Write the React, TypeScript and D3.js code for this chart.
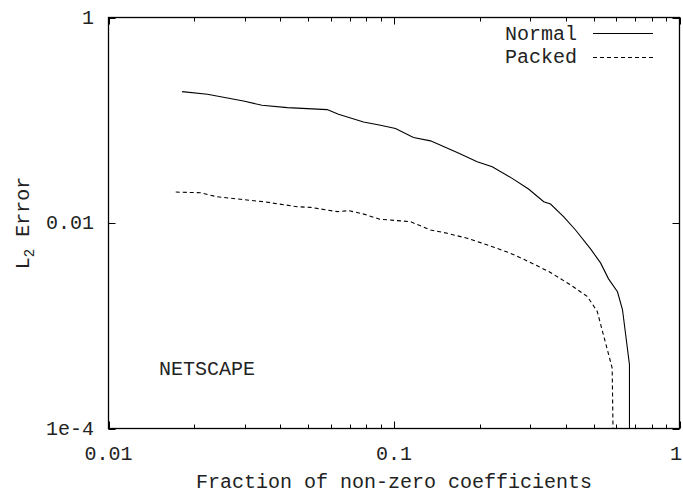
import React from 'react';
import * as d3 from 'd3';

// fraction of non-zero coefficients vs L2 error
const normalX = [0.0181, 0.0222, 0.0297, 0.0345, 0.0423, 0.0583, 0.0639, 0.0782, 0.0897, 0.1012, 0.117, 0.1342, 0.1665, 0.1956, 0.2208, 0.2594, 0.2959, 0.3346, 0.3534, 0.3933, 0.4323, 0.488, 0.529, 0.5642, 0.6064, 0.6315, 0.668, 0.668];
const normalY = [0.19, 0.1788, 0.1539, 0.1398, 0.1328, 0.127, 0.1144, 0.0962, 0.0894, 0.0831, 0.0679, 0.063, 0.0486, 0.0394, 0.0352, 0.0272, 0.0214, 0.0161, 0.0153, 0.0115, 0.00855, 0.00559, 0.00409, 0.00286, 0.00214, 0.00143, 0.000418, 0.0001];
const packedX = [0.0172, 0.021, 0.024, 0.029, 0.035, 0.0458, 0.051, 0.0633, 0.0695, 0.0784, 0.089, 0.1142, 0.1342, 0.1536, 0.1805, 0.2009, 0.2237, 0.2524, 0.2848, 0.3484, 0.4151, 0.475, 0.515, 0.581, 0.585];
const packedY = [0.02, 0.0197, 0.018, 0.017, 0.0161, 0.0144, 0.0142, 0.0129, 0.0132, 0.0122, 0.0109, 0.0103, 0.00855, 0.00794, 0.0071, 0.00644, 0.00581, 0.00515, 0.00444, 0.00337, 0.0025, 0.00193, 0.00138, 0.000388, 0.0001];

const xTicks = [0.01, 0.1, 1];
const xTickLabels = ['0.01', '0.1', '1'];
const yTicks = [1, 0.01, 0.0001];
const yTickLabels = ['1', '0.01', '1e-4'];
const seriesNames = ['Normal', 'Packed'];

const W = 683;
const H = 493;
const left = 108.5;
const right = 679.5;
const top = 17.5;
const bottom = 428.5;
const font = '"Liberation Mono", "Courier New", monospace';

export default function App() {
	const x = d3.scaleLog().domain([0.01, 1]).range([left, right]);
	const y = d3.scaleLog().domain([0.0001, 1]).range([bottom, top]);

	const line = d3
		.line<[number, number]>()
		.x(d => x(d[0]))
		.y(d => y(d[1]));

	const normal = normalX.map((v, i) => [v, normalY[i]] as [number, number]);
	const packed = packedX.map((v, i) => [v, packedY[i]] as [number, number]);

	// minor ticks 2..9 of each decade
	const minor: number[] = [];
	[0.01, 0.1].forEach(d => {
		for (let k = 2; k <= 9; k++) minor.push(d * k);
	});

	return (
		<svg width={W} height={H} style={{ position: 'absolute', left: 0, top: 0, background: '#fff' }}>
			<defs>
				<clipPath id="plot">
					<rect x={left} y={top} width={right - left} height={bottom - top} />
				</clipPath>
			</defs>

			{/* ticks */}
			<g stroke="#000" strokeWidth={1}>
				{minor.map(t => (
					<g key={'m' + t}>
						<line x1={Math.round(x(t)) + 0.5} x2={Math.round(x(t)) + 0.5} y1={bottom} y2={bottom - 4} />
						<line x1={Math.round(x(t)) + 0.5} x2={Math.round(x(t)) + 0.5} y1={top} y2={top + 4} />
					</g>
				))}
				{xTicks.map(t => (
					<g key={'M' + t}>
						<line x1={Math.round(x(t)) + 0.5} x2={Math.round(x(t)) + 0.5} y1={bottom} y2={bottom - 7} />
						<line x1={Math.round(x(t)) + 0.5} x2={Math.round(x(t)) + 0.5} y1={top} y2={top + 7} />
					</g>
				))}
				{yTicks.map(t => (
					<g key={'y' + t}>
						<line x1={left} x2={left + 7} y1={Math.round(y(t)) + 0.5} y2={Math.round(y(t)) + 0.5} />
						<line x1={right} x2={right - 7} y1={Math.round(y(t)) + 0.5} y2={Math.round(y(t)) + 0.5} />
					</g>
				))}
			</g>

			<rect x={left} y={top} width={right - left} height={bottom - top} fill="none" stroke="#000" strokeWidth={1.3} />

			{/* tick labels */}
			<g fontFamily={font} fontSize={20} fill="#222">
				{xTicks.map((t, i) => (
					<text
						key={'xl' + t}
						x={i === xTicks.length - 1 ? 682 : x(t)}
						y={460}
						textAnchor={i === xTicks.length - 1 ? 'end' : 'middle'}
					>
						{xTickLabels[i]}
					</text>
				))}
				{yTicks.map((t, i) => (
					<text key={'yl' + t} x={94} y={y(t) + 6} textAnchor="end">
						{yTickLabels[i]}
					</text>
				))}
				<text x={(left + right) / 2} y={488} textAnchor="middle">
					Fraction of non-zero coefficients
				</text>
				<text transform={`translate(29, 223) rotate(-90)`} textAnchor="middle">
					L<tspan fontSize={14} dy={5}>2</tspan>
					<tspan dy={-5}> Error</tspan>
				</text>
				<text x={159} y={375}>
					NETSCAPE
				</text>
				{/* legend */}
				<text x={577} y={40} textAnchor="end">
					{seriesNames[0]}
				</text>
				<text x={577} y={63} textAnchor="end">
					{seriesNames[1]}
				</text>
			</g>

			<g stroke="#000" strokeWidth={1}>
				<line x1={593} x2={653} y1={33.5} y2={33.5} />
				<line x1={593} x2={653} y1={57.5} y2={57.5} strokeDasharray="4,3" />
			</g>

			<g clipPath="url(#plot)" fill="none" stroke="#000" strokeWidth={1.1}>
				<path d={line(normal) || ''} />
				<path d={line(packed) || ''} strokeDasharray="4,3" />
			</g>
		</svg>
	);
}
